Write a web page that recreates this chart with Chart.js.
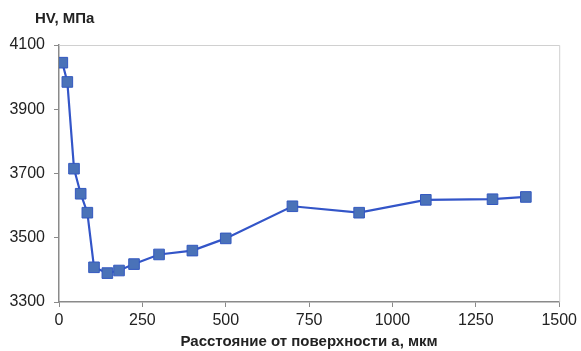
<!DOCTYPE html>
<html>
<head>
<meta charset="utf-8">
<script src="https://cdn.jsdelivr.net/npm/chart.js@4"></script>
<style>
  html, body { margin: 0; padding: 0; background: #fff; }
  #wrap { width: 581px; height: 351px; }
</style>
</head>
<body>
<div id="wrap"><canvas id="hvChart" width="581" height="351"></canvas></div>
<script>
// Distance from surface, um
const distances = [10, 25, 45, 65, 85, 105, 145, 180, 225, 300, 400, 500, 700, 900, 1100, 1300, 1400];
// Microhardness HV, MPa
const hardness = [4045, 3985, 3715, 3637, 3578, 3408, 3390, 3398, 3418, 3448, 3460, 3498, 3598, 3578, 3618, 3620, 3627];

const xTicks = [0, 250, 500, 750, 1000, 1250, 1500];
const yTicks = [3300, 3500, 3700, 3900, 4100];

const yTitle = 'HV, МПа';
const xTitle = 'Расстояние от поверхности а, мкм';

const FONT = '"Liberation Sans", Arial, sans-serif';

// frame on top/right + the horizontal y caption
const framePlugin = {
    id: 'frame',
    beforeDatasetsDraw(chart) {
        const { ctx, chartArea: a } = chart;
        ctx.save();
        ctx.strokeStyle = '#d0d0d0';
        ctx.lineWidth = 1;
        ctx.beginPath();
        ctx.moveTo(a.left, a.top + 0.5);
        ctx.lineTo(a.right + 0.5, a.top + 0.5);
        ctx.lineTo(a.right + 0.5, a.bottom);
        ctx.stroke();
        ctx.restore();
    },
    afterDraw(chart) {
        const { ctx } = chart;
        ctx.save();
        ctx.font = 'bold 15px ' + FONT;
        ctx.fillStyle = '#222';
        ctx.textBaseline = 'middle';
        ctx.fillText(yTitle, 35, 19);
        ctx.restore();
    }
};

const ctx = document.getElementById('hvChart').getContext('2d');
new Chart(ctx, {
    type: 'scatter',
    data: {
        datasets: [{
            data: distances.map((d, i) => ({ x: d, y: hardness[i] })),
            showLine: true,
            borderColor: '#3355c8',
            borderWidth: 2.2,
            pointStyle: 'rect',
            pointRadius: 7.5,
            pointBackgroundColor: '#4a72b8',
            pointBorderColor: '#3358c0',
            pointBorderWidth: 1,
            tension: 0
        }]
    },
    options: {
        responsive: false,
        animation: false,
        layout: { padding: { left: 0, right: 20, top: 45, bottom: 0 } },
        plugins: {
            legend: { display: false },
            tooltip: { enabled: false }
        },
        scales: {
            x: {
                type: 'linear',
                min: 0,
                max: 1500,
                afterBuildTicks: s => { s.ticks = xTicks.map(v => ({ value: v })); },
                afterFit: s => { s.height = 49; },
                border: { color: '#8a8a8a', width: 1.5 },
                grid: { drawOnChartArea: false, tickLength: 5, color: '#8a8a8a' },
                ticks: {
                    color: '#222',
                    padding: 4,
                    callback: v => String(v),
                    font: { family: FONT, size: 16 }
                },
                title: {
                    display: true,
                    text: xTitle,
                    color: '#222',
                    padding: { top: 0, bottom: 0 },
                    font: { family: FONT, size: 15, weight: 'bold' }
                }
            },
            y: {
                type: 'linear',
                min: 3300,
                max: 4100,
                afterBuildTicks: s => { s.ticks = yTicks.map(v => ({ value: v })); },
                afterFit: s => { s.width = 59; },
                border: { color: '#8a8a8a', width: 1.5 },
                grid: { drawOnChartArea: false, tickLength: 5, color: '#8a8a8a' },
                ticks: {
                    color: '#222',
                    padding: 9,
                    callback: v => String(v),
                    font: { family: FONT, size: 16 }
                }
            }
        }
    },
    plugins: [framePlugin]
});
</script>
</body>
</html>
